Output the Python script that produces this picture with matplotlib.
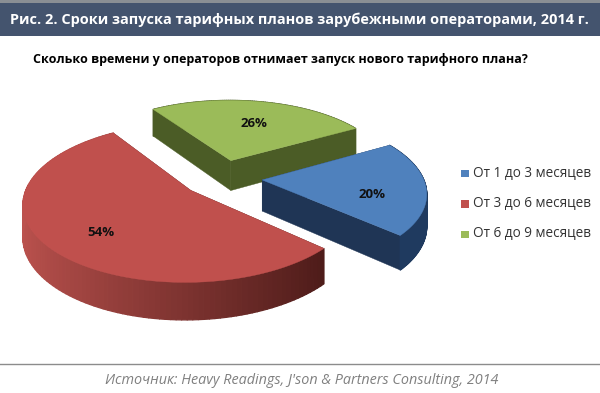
import numpy as np
import matplotlib
matplotlib.use("Agg")
import matplotlib.pyplot as plt
from matplotlib.patches import Rectangle, Polygon
from matplotlib.collections import PolyCollection
from matplotlib.colors import to_rgb

categories = ["От 1 до 3 месяцев", "От 3 до 6 месяцев", "От 6 до 9 месяцев"]
values = [20, 54, 26]
labels = ["20%", "54%", "26%"]
top_colors = ["#4f81bd", "#c0504d", "#9bbb59"]
side_colors = ["#1f3555", "#561c1a", "#4b5c26"]
rim_light = ["#1f3a5f", "#bc524e", "#4b5c26"]
rim_dark = ["#1f3a5f", "#3e1412", "#4b5c26"]
label_radius = [0.68, 0.70, 0.60]
label_turn = [10, -5, 3]

title = "Рис. 2. Сроки запуска тарифных планов зарубежными операторами, 2014 г."
subtitle = "Сколько времени у операторов отнимает запуск нового тарифного плана?"
source = "Источник: Heavy Readings, J'son & Partners Consulting, 2014"

# pie geometry in pixels
cx, cy = 222, 178
R = 161
tilt = 0.46
persp = 0.15
depth = 31
explode = 0.25
start_deg = 330


def project(u, v, drop=0):
    p = 1 / (1 - persp * v)
    return cx + R * u * p, cy + R * tilt * v * p + drop * p


def slice_points(t0, t1, offset, drop=0):
    t = np.radians(np.linspace(t0, t1, 120))
    u = np.concatenate([[offset[0]], offset[0] + np.cos(t)])
    v = np.concatenate([[offset[1]], offset[1] + np.sin(t)])
    return np.column_stack(project(u, v, drop))


fig = plt.figure(figsize=(6, 3.93), dpi=100)
ax = fig.add_axes([0, 0, 1, 1])
ax.set_xlim(0, 600)
ax.set_ylim(393, 0)
ax.axis("off")

ax.add_patch(Rectangle((0, 0), 600, 3, color="#8a8f94", lw=0))
ax.add_patch(Rectangle((0, 3), 600, 33, color="#44546e", lw=0))
ax.text(10, 19.5, title, color="white", fontsize=10.48, fontweight="bold",
        family="Open Sans", va="center", ha="left")
ax.text(280.5, 59, subtitle, color="black", fontsize=9.0, fontweight="bold",
        family="Open Sans", va="center", ha="center")

# slice angles, clockwise on screen
shares = np.array(values) / sum(values) * 360
ends = start_deg + np.cumsum(shares)
starts = ends - shares
mids = (starts + ends) / 2

# back slices first
for i in [2, 0, 1]:
    off = explode * np.array([np.cos(np.radians(mids[i])), np.sin(np.radians(mids[i]))])
    top = slice_points(starts[i], ends[i], off)
    bottom = slice_points(starts[i], ends[i], off, depth)

    # straight cut faces
    for a, b in [(0, 1), (0, -1)]:
        face = [top[a], top[b], bottom[b], bottom[a]]
        ax.add_patch(Polygon(face, closed=True, fc=side_colors[i], ec=side_colors[i], lw=0.3))

    # outer rim as thin strips so the shade can change along it
    t = np.linspace(starts[i], ends[i], 119)
    quads = []
    cols = []
    light = np.array(to_rgb(rim_light[i]))
    dark = np.array(to_rgb(rim_dark[i]))
    for j in range(1, len(top) - 1):
        quads.append([top[j], top[j + 1], bottom[j + 1], bottom[j]])
        f = (1 - np.cos(np.radians(t[j - 1]))) / 2
        cols.append(dark + (light - dark) * f)
    ax.add_collection(PolyCollection(quads, facecolors=cols, edgecolors=cols, linewidths=0.9))

    ax.add_patch(Polygon(top, closed=True, fc=top_colors[i], ec=top_colors[i], lw=0.3))

    a = np.radians(mids[i] + label_turn[i])
    lx, ly = project(off[0] + label_radius[i] * np.cos(a), off[1] + label_radius[i] * np.sin(a))
    ax.text(lx, ly, labels[i], color="#111111", fontsize=9.5, fontweight="bold",
            family="Open Sans", ha="center", va="center")

# legend
for i, name in enumerate(categories):
    y = 173 + 30.5 * i
    ax.add_patch(Rectangle((461, y - 3.5), 7.5, 7.5, color=top_colors[i], lw=0))
    ax.text(473, y, name, color="#333333", fontsize=9.8, family="Open Sans", va="center")

ax.plot([0, 600], [364, 364], color="#8c8c8c", lw=1)
ax.text(302, 381, source, color="#808080", fontsize=10.4, style="italic",
        family="Open Sans", ha="center", va="center")

fig.savefig("out.png", dpi=100)
